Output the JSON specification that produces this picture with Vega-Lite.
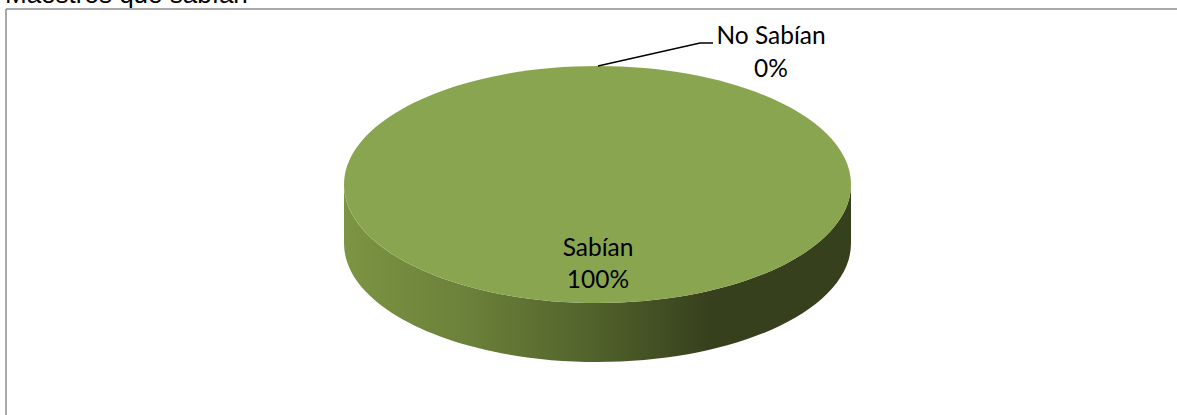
{"$schema":"https://vega.github.io/schema/vega-lite/v6.json","width":1177,"height":415,"padding":0,"autosize":"none","background":"white","view":{"stroke":null},"datasets":{"pie":[{"categoria":"Sabían","porcentaje":100,"cx":597.5,"cy":184.5}],"leader":[{"x":598,"y":66,"orden":1},{"x":700,"y":43,"orden":2},{"x":713,"y":43,"orden":3}],"labels":[{"t":"Sabían","x":598,"y":256},{"t":"100%","x":598,"y":288},{"t":"No Sabían","x":771,"y":44},{"t":"0%","x":771,"y":77}],"frame":[{"x":6,"y":9,"x2":1177,"y2":9},{"x":6,"y":9,"x2":6,"y2":415}],"title":[{"t":"Maestros que sabían","x":5,"y":3}]},"encoding":{"x":{"field":"x","type":"quantitative","scale":{"domain":[0,1177]},"axis":null},"y":{"field":"y","type":"quantitative","scale":{"domain":[415,0]},"axis":null}},"layer":[{"data":{"name":"frame"},"mark":{"type":"rule","color":"#8c8c8c","strokeWidth":1.5},"encoding":{"x2":{"field":"x2"},"y2":{"field":"y2"}}},{"data":{"name":"title"},"mark":{"type":"text","align":"left","baseline":"alphabetic","font":"Liberation Sans","fontSize":26,"color":"black","clip":false},"encoding":{"text":{"field":"t"}}},{"data":{"name":"pie"},"mark":{"type":"point","filled":true,"opacity":1,"size":257049,"shape":"M-1,0 A1,0.4675 0 0,0 1,0 L1,0.2327 A1,0.4675 0 0,1 -1,0.2327 Z","fill":{"gradient":"linear","x1":0,"y1":0,"x2":1,"y2":0,"stops":[{"offset":0,"color":"#7c9443"},{"offset":0.25,"color":"#6b8039"},{"offset":0.5,"color":"#50612b"},{"offset":0.72,"color":"#37401d"},{"offset":1,"color":"#37401d"}]}},"encoding":{"x":{"field":"cx","type":"quantitative"},"y":{"field":"cy","type":"quantitative"}}},{"data":{"name":"pie"},"mark":{"type":"point","filled":true,"opacity":1,"size":257049,"fill":"#8aa550","shape":"M-1,0 A1,0.4675 0 1,1 1,0 A1,0.4675 0 1,1 -1,0 Z"},"encoding":{"x":{"field":"cx","type":"quantitative"},"y":{"field":"cy","type":"quantitative"}}},{"data":{"name":"leader"},"mark":{"type":"line","color":"black","strokeWidth":1.5},"encoding":{"order":{"field":"orden","type":"ordinal"}}},{"data":{"name":"labels"},"mark":{"type":"text","align":"center","baseline":"alphabetic","font":"Lato","fontSize":24.5,"color":"black"},"encoding":{"text":{"field":"t"}}}]}
